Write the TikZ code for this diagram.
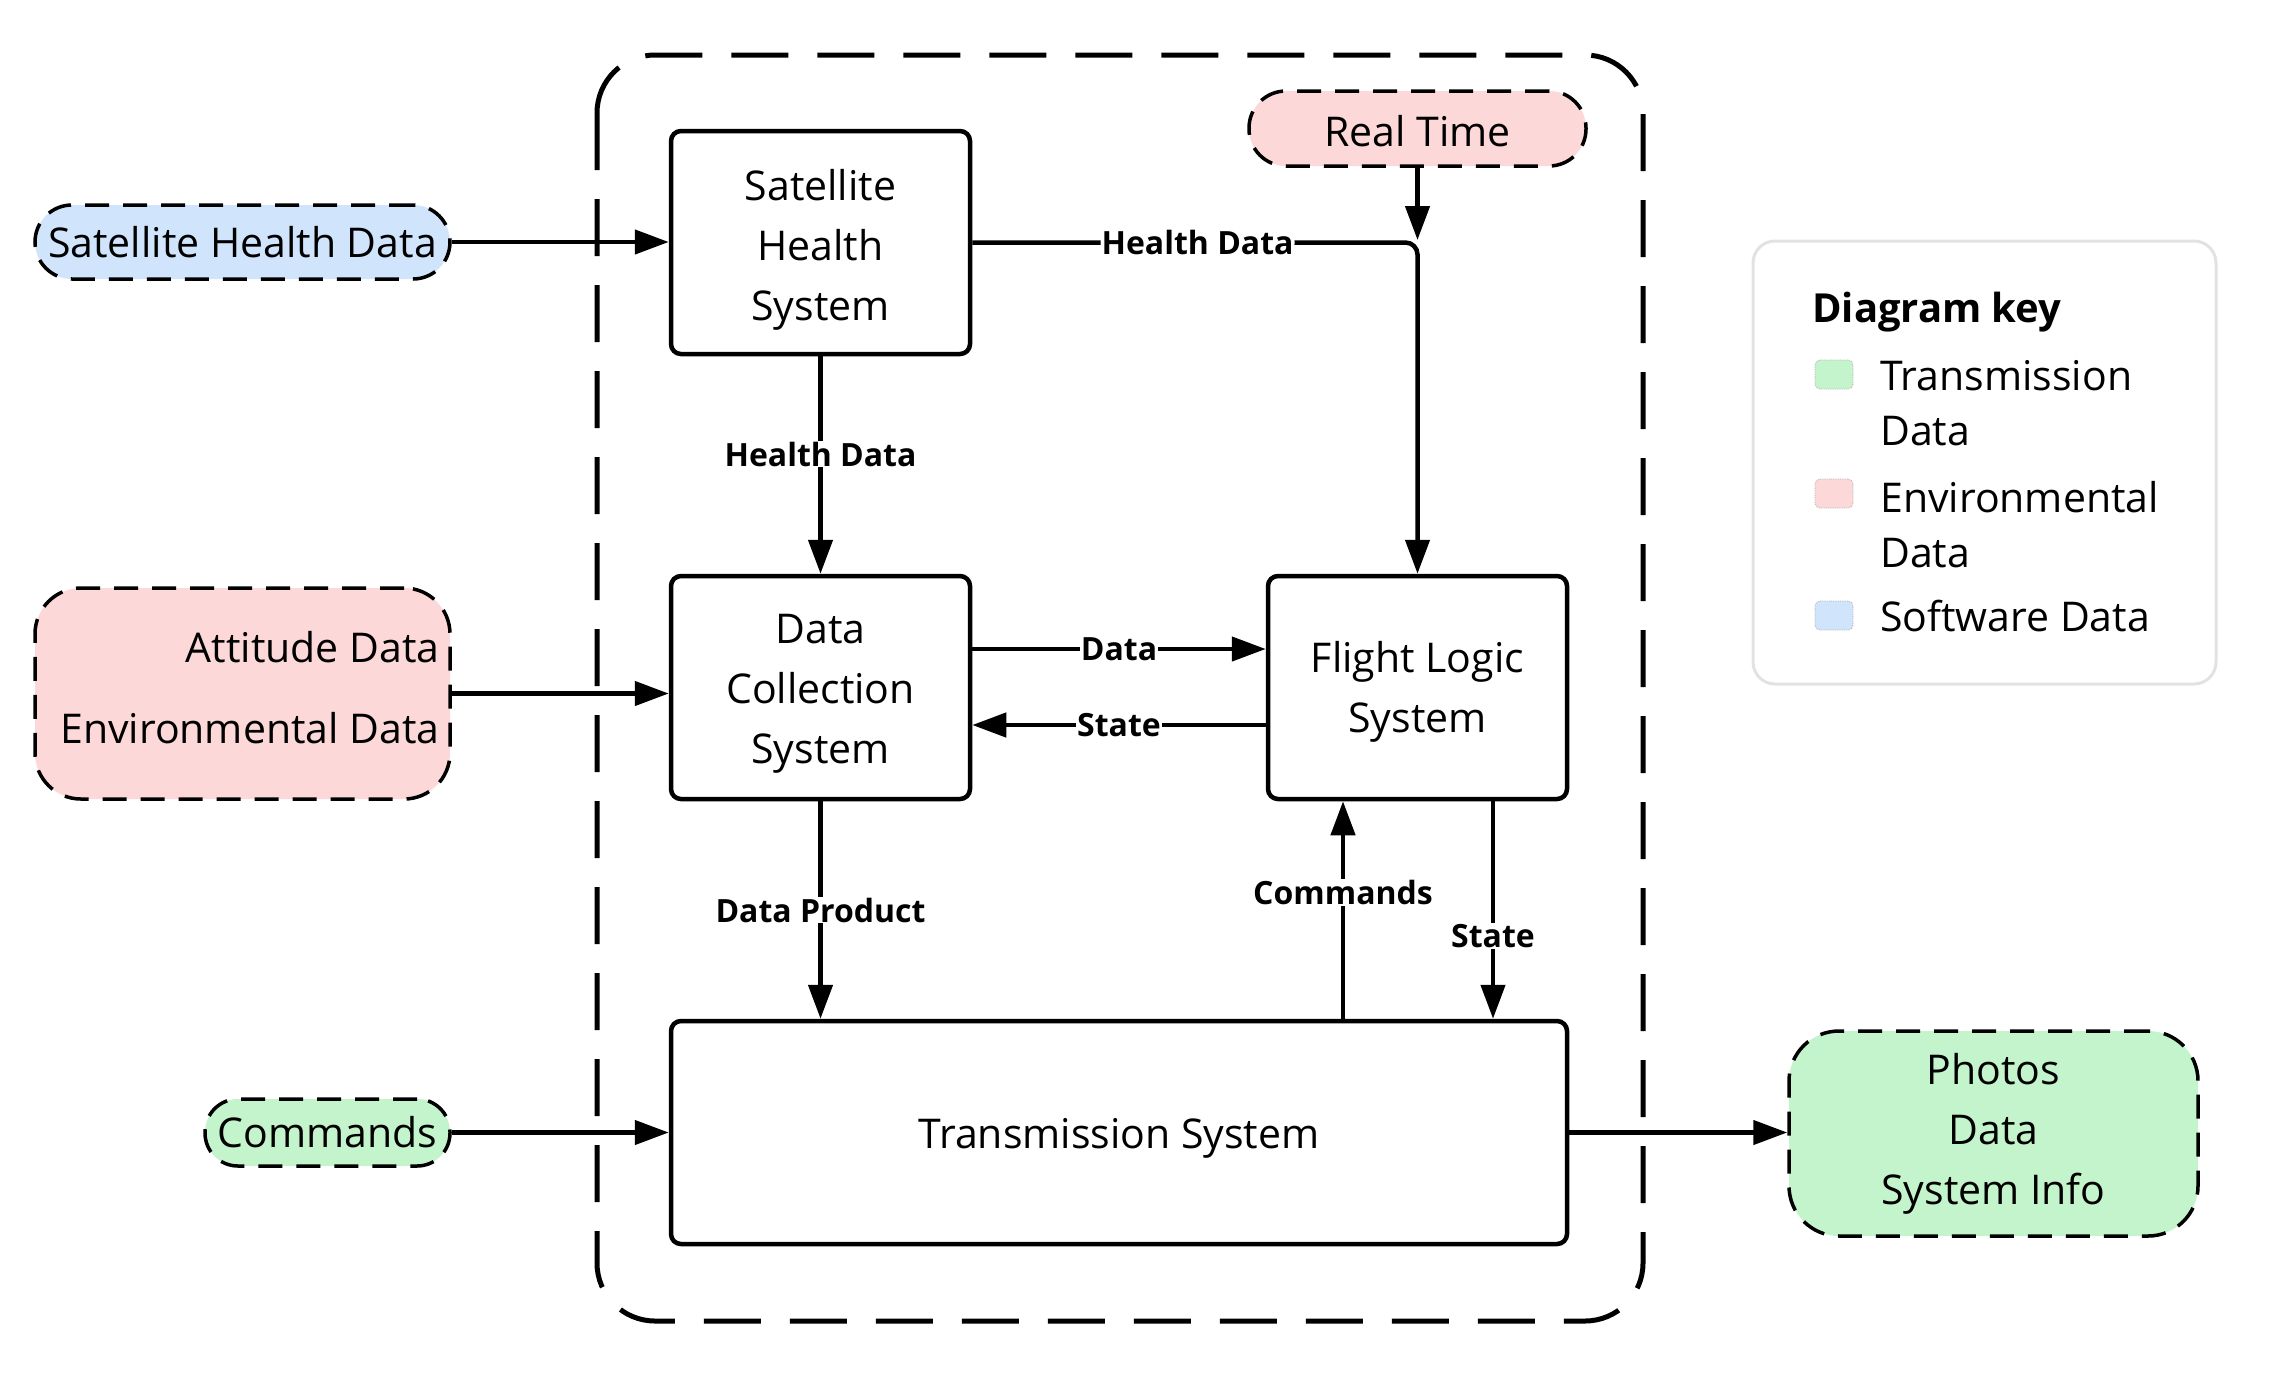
\documentclass[tikz,border=0pt]{standalone}
\usepackage{fontspec}
\setmainfont{Open Sans}
\usetikzlibrary{arrows.meta}
\definecolor{swblue}{HTML}{D0E4FC}
\definecolor{envpink}{HTML}{FDD8D8}
\definecolor{trgreen}{HTML}{C4F4CB}
\definecolor{keygray}{HTML}{E2E2E2}
\begin{document}
\begin{tikzpicture}[x=1pt,y=-1pt,
  sysbox/.style={draw, line width=4.5pt, rounded corners=10pt, fill=white, inner sep=0pt},
  boxtxt/.style={align=center, inner sep=0pt, font=\fontsize{41}{60}\selectfont},
  ext/.style={draw, line width=3.5pt, dash pattern=on 24pt off 14pt, align=center, inner sep=0pt, font=\fontsize{41}{60}\selectfont},
  arr/.style={line width=4.5pt, -{Triangle[length=34pt,width=24pt]}},
  lbl/.style={fill=white, inner sep=1pt, font=\fontsize{32}{36}\selectfont\bfseries},
  keysq/.style={draw=gray!60, densely dotted, line width=0.8pt, rounded corners=5pt, minimum width=38pt, minimum height=29pt, inner sep=0pt},
  keytxt/.style={anchor=west, align=left, inner sep=0pt, font=\fontsize{41}{55}\selectfont},
]
\useasboundingbox (0,0) rectangle (2277,1385);
% container
\draw[line width=5pt, dash pattern=on 57pt off 29pt, rounded corners=58pt] (597,55) rectangle (1643,1321);
% system boxes
\node[sysbox, minimum width=299pt, minimum height=223pt] (shs) at (820.5,242.5) {};
\node[boxtxt] (shs-t) at ([yshift=-7pt]shs.center) {Satellite\\Health\\System};
\node[sysbox, minimum width=299pt, minimum height=223pt] (dcs) at (820.5,687.5) {};
\node[boxtxt] (dcs-t) at ([yshift=-6pt]dcs.center) {Data\\Collection\\System};
\node[sysbox, minimum width=299pt, minimum height=223pt] (fls) at (1417.5,687.5) {};
\node[boxtxt] (fls-t) at ([yshift=-4pt]fls.center) {Flight Logic\\System};
\node[sysbox, minimum width=896pt, minimum height=223pt] (ts) at (1119,1132.5) {};
\node[boxtxt] (ts-t) at ([yshift=-6pt]ts.center) {Transmission System};
% external data
\node[ext, fill=envpink, minimum width=337pt, minimum height=75pt, rounded corners=37pt] (rt) at (1417.5,128.5) {};
\node[boxtxt] (rt-t) at ([yshift=-3pt]rt.center) {Real Time};
\node[ext, fill=swblue, minimum width=415pt, minimum height=74pt, rounded corners=37pt] (shd) at (242.5,242) {Satellite Health Data};
\node[ext, fill=envpink, minimum width=415pt, minimum height=211pt, rounded corners=46pt] (env) at (242.5,693.5) {};
\node[align=right, anchor=east, inner sep=0pt, font=\fontsize{41}{81}\selectfont] (env-t) at ([xshift=-12pt,yshift=6pt]env.east) {Attitude Data\\Environmental Data};
\node[ext, fill=trgreen, minimum width=245pt, minimum height=67pt, rounded corners=33pt] (cmd) at (327.5,1132.5) {Commands};
\node[ext, fill=trgreen, minimum width=409pt, minimum height=205pt, rounded corners=50pt] (out) at (1993.5,1133.5) {Photos\\Data\\System Info};
% helper coordinates
\coordinate (rtend) at (1417.5,240);
\coordinate (ydata) at (0,649);
\coordinate (ystate) at (0,725);
\coordinate (xcmd) at (1343,0);
\coordinate (xstate) at (1493,0);
% connectors
\draw[arr] (shd.east) -- (shd.east -| shs.west);
\draw[arr] (env.east) -- (env.east -| dcs.west);
\draw[arr] (cmd.east) -- (cmd.east -| ts.west);
\draw[arr] (ts.east) -- (ts.east -| out.west);
\draw[arr] (shs.south) -- node[lbl, pos=0.45] (lhd1) {Health Data} (dcs.north);
\draw[arr, rounded corners=12pt] (shs.east) -| node[lbl, pos=0.253] (lhd2) {Health Data} (fls.north);
\draw[arr] (rt.south) -- (rtend);
\draw[arr] (dcs.east |- ydata) -- node[lbl] (ldata) {Data} (fls.west |- ydata);
\draw[arr] (fls.west |- ystate) -- node[lbl] (lstate1) {State} (dcs.east |- ystate);
\draw[arr] (dcs.south) -- node[lbl] (ldp) {Data Product} (dcs.south |- ts.north);
\draw[arr] (xcmd |- ts.north) -- node[lbl, pos=0.58] (lcmd) {Commands} (xcmd |- fls.south);
\draw[arr] (xstate |- fls.south) -- node[lbl, pos=0.62] (lstate2) {State} (xstate |- ts.north);
% legend
\node[draw=keygray, line width=3pt, rounded corners=22pt, minimum width=463pt, minimum height=443pt, inner sep=0pt] (key) at (1984.5,462.5) {};
\node[anchor=west, inner sep=0pt, font=\fontsize{40}{44}\selectfont\bfseries] (keytitle) at (1812,312) {Diagram key};
\node[keysq, fill=trgreen] (sqg) at (1834,374.5) {};
\node[keysq, fill=envpink] (sqp) at (1834,493.5) {};
\node[keysq, fill=swblue] (sqb) at (1834,615.5) {};
\node[keytxt] (kt1) at (1880,403.5) {Transmission\\Data};
\node[keytxt] (kt2) at (1880,524.5) {Environmental\\Data};
\node[keytxt] (kt3) at (1880,616) {Software Data};
\end{tikzpicture}
\end{document}
